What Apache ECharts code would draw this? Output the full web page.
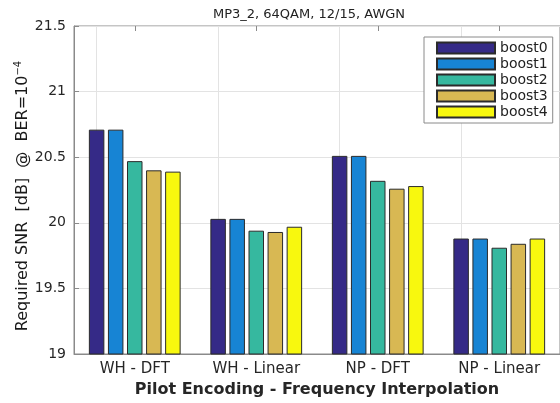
<!DOCTYPE html>
<html>
<head>
<meta charset="utf-8">
<script src="https://cdn.jsdelivr.net/npm/echarts@6/dist/echarts.min.js"></script>
<style>html,body{margin:0;padding:0;background:#fff;}#c{width:560px;height:403px;}</style>
</head>
<body>
<div id="c"></div>
<script>
const categories = ['WH - DFT', 'WH - Linear', 'NP - DFT', 'NP - Linear'];
const seriesNames = ['boost0', 'boost1', 'boost2', 'boost3', 'boost4'];
const boost0 = [20.71, 20.03, 20.51, 19.88];
const boost1 = [20.71, 20.03, 20.51, 19.88];
const boost2 = [20.47, 19.94, 20.32, 19.81];
const boost3 = [20.40, 19.93, 20.26, 19.84];
const boost4 = [20.39, 19.97, 20.28, 19.88];
const seriesData = [boost0, boost1, boost2, boost3, boost4];
const colors = ['#352a87', '#1784d4', '#36b89f', '#d8b853', '#f8f80e'];
const yTicks = [19, 19.5, 20, 20.5, 21, 21.5];

const FONT = '"DejaVu Sans", sans-serif';
const chart = echarts.init(document.getElementById('c'), null, {renderer: 'canvas'});

const series = seriesNames.map((name, i) => ({
  name: name,
  type: 'bar',
  data: seriesData[i],
  barWidth: 15.5,
  barGap: '23%',
  itemStyle: {color: colors[i], borderColor: '#2b2b2b', borderWidth: 1},
  z: 3,
  markLine: i === 0 ? {
    silent: true,
    symbol: 'none',
    label: {show: false},
    lineStyle: {color: '#e3e3e3', width: 1, type: 'solid'},
    data: categories.map(c => ({xAxis: c})),
    z: 1
  } : undefined
}));

chart.setOption({
  animation: false,
  title: {
    text: 'MP3_2, 64QAM, 12/15, AWGN',
    left: 304, top: 3, textAlign: 'center',
    textStyle: {fontFamily: FONT, fontSize: 13, fontWeight: 'normal', color: '#222'}
  },
  legend: {
    data: seriesNames,
    orient: 'vertical',
    left: 424, top: 37,
    width: 128,
    padding: [4, 5, 4, 12],
    itemWidth: 58, itemHeight: 11, itemGap: 2,
    borderColor: '#8a8a8a', borderWidth: 1,
    backgroundColor: '#fff',
    icon: 'rect',
    textStyle: {fontFamily: FONT, fontSize: 14, color: '#222', lineHeight: 14},
    z: 10
  },
  grid: {
    left: 74, top: 26, width: 492, height: 328,
    show: true, borderColor: '#8a8a8a', borderWidth: 1, backgroundColor: 'transparent'
  },
  xAxis: [{
    type: 'category',
    data: categories,
    position: 'bottom',
    axisLine: {lineStyle: {color: '#8a8a8a'}},
    axisTick: {show: false},
    axisLabel: {fontFamily: FONT, fontSize: 15, color: '#262626', margin: 8},
    splitLine: {show: false},
    name: 'Pilot Encoding - Frequency Interpolation',
    nameLocation: 'middle',
    nameGap: 27,
    nameTextStyle: {fontFamily: FONT, fontSize: 16, fontWeight: 'bold', color: '#262626'}
  }, {
    type: 'category',
    data: categories,
    position: 'top',
    axisLine: {show: false},
    axisTick: {show: true, inside: true, alignWithLabel: true, length: 5, lineStyle: {color: '#8a8a8a'}},
    axisLabel: {show: false},
    splitLine: {show: false}
  }],
  yAxis: {
    type: 'value',
    min: yTicks[0], max: yTicks[yTicks.length - 1], interval: 0.5,
    axisLine: {show: true, lineStyle: {color: '#8a8a8a'}},
    axisTick: {show: true, inside: true, length: 5, lineStyle: {color: '#8a8a8a'}},
    axisLabel: {fontFamily: FONT, fontSize: 14, color: '#262626', margin: 8,
      formatter: v => String(v)},
    splitLine: {show: true, lineStyle: {color: '#e3e3e3', width: 1}},
    name: '{a|Required SNR  [dB]  @  BER=10}{sup|−4}',
    nameLocation: 'middle',
    nameRotate: 90,
    nameGap: 41,
    nameMoveOverlap: false,
    nameTextStyle: {
      padding: [0, 12, 0, 0],
      rich: {
        a: {fontFamily: FONT, fontSize: 16, color: '#1a1a1a', lineHeight: 20},
        sup: {fontFamily: FONT, fontSize: 10, color: '#1a1a1a', lineHeight: 10, verticalAlign: 'top'}
      }
    }
  },
  series: series
});
</script>
</body>
</html>
